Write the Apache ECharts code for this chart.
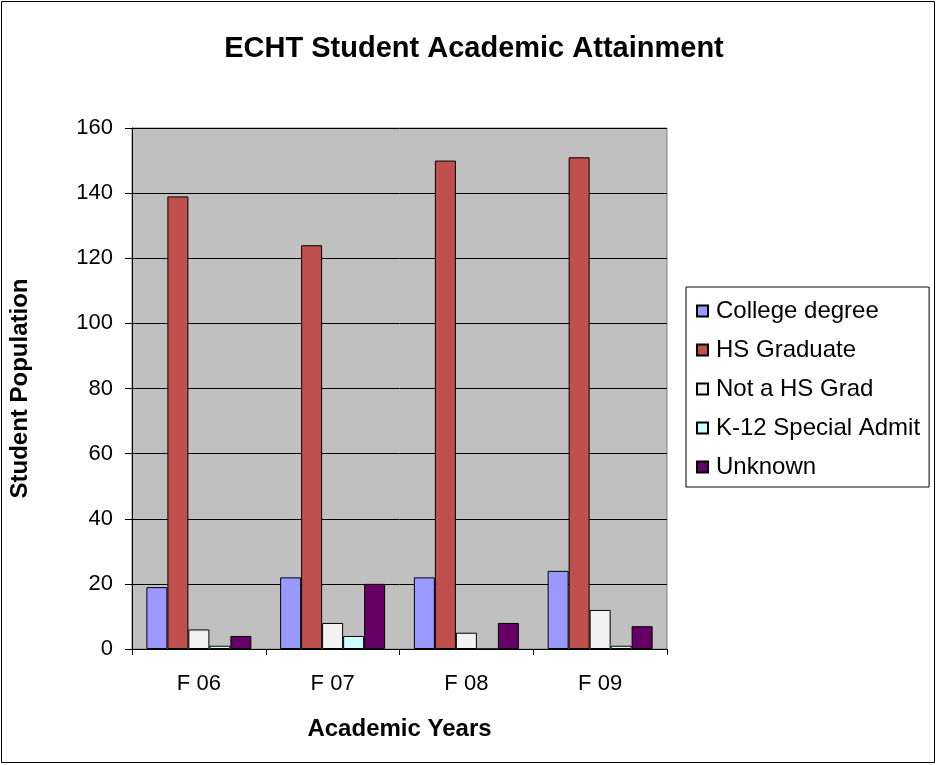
<!DOCTYPE html>
<html><head><meta charset="utf-8">
<script src="https://cdn.jsdelivr.net/npm/echarts@6/dist/echarts.min.js"></script>
<style>html,body{margin:0;padding:0;background:#fff}#c{width:937px;height:765px}</style>
</head><body><div id="c"></div>
<script>
const categories = ['F 06', 'F 07', 'F 08', 'F 09'];
const collegeDegree = [19, 22, 22, 24];
const hsGraduate = [139, 124, 150, 151];
const notHsGrad = [6, 8, 5, 12];
const k12Special = [1, 4, 0, 1];
const unknown = [4, 20, 8, 7];
const seriesNames = ['College degree', 'HS Graduate', 'Not a HS Grad', 'K-12 Special Admit', 'Unknown'];
const seriesColors = ['#9999FF', '#C0504D', '#F2F2F2', '#CCFFFF', '#660066'];
const seriesData = [collegeDegree, hsGraduate, notHsGrad, k12Special, unknown];

const chart = echarts.init(document.getElementById('c'), null, {renderer: 'canvas'});
const font = 'Arial, "Liberation Sans", sans-serif';
chart.setOption({
  animation: false,
  textStyle: {fontFamily: font},
  title: {
    text: 'ECHT Student Academic Attainment', left: 469, top: 29, textAlign: 'center',
    textStyle: {fontSize: 29, fontWeight: 'bold', color: '#000', fontFamily: font}
  },
  graphic: [{type: 'rect', shape: {x: 1.5, y: 1.5, width: 933, height: 761}, style: {fill: 'none', stroke: '#000', lineWidth: 1}, silent: true}],
  legend: {
    orient: 'vertical', left: 686, top: 287,
    padding: [12, 9, 8, 10], itemGap: 15, itemWidth: 11, itemHeight: 11,
    borderColor: '#000', borderWidth: 1, icon: 'rect',
    textStyle: {fontSize: 24, color: '#000', fontFamily: font, padding: [0, 0, 0, 3]},
    data: seriesNames
  },
  grid: {left: 130, top: 128, width: 537, height: 521, show: true, backgroundColor: '#C0C0C0', borderColor: '#808080', borderWidth: 1},
  xAxis: {
    type: 'category', data: categories,
    name: 'Academic Years', nameLocation: 'middle', nameGap: 68,
    nameTextStyle: {fontSize: 24, fontWeight: 'bold', color: '#000', fontFamily: font},
    axisLine: {lineStyle: {color: '#000', width: 1}},
    axisTick: {show: true, alignWithLabel: false, length: 6, lineStyle: {color: '#000'}},
    axisLabel: {fontSize: 22, color: '#000', margin: 24, fontFamily: font}
  },
  yAxis: {
    type: 'value', min: 0, max: 160, interval: 20,
    name: 'Student Population', nameLocation: 'middle', nameGap: 100, nameRotate: 90,
    nameTextStyle: {fontSize: 24, fontWeight: 'bold', color: '#000', fontFamily: font},
    axisLine: {show: true, lineStyle: {color: '#000', width: 1}},
    axisTick: {show: true, length: 7, lineStyle: {color: '#000'}},
    axisLabel: {fontSize: 22, color: '#000', margin: 19, fontFamily: font},
    splitLine: {show: true, lineStyle: {color: '#000', width: 1}}
  },
  series: seriesNames.map((n, i) => ({
    name: n, type: 'bar', data: seriesData[i],
    barGap: '0%', barWidth: 21,
    itemStyle: {color: seriesColors[i], borderColor: '#000', borderWidth: 1}
  }))
});
</script></body></html>
